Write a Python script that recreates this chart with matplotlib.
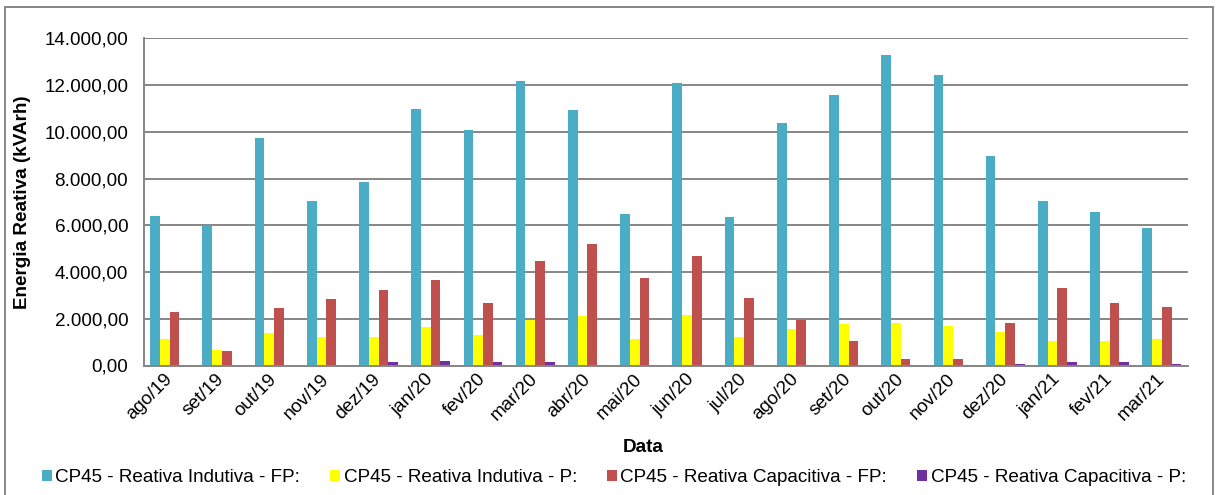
import matplotlib
matplotlib.use("Agg")
import matplotlib.pyplot as plt
from matplotlib.patches import Patch, Rectangle
from matplotlib.ticker import FuncFormatter, MultipleLocator
import numpy as np

plt.rcParams['font.family'] = ['Liberation Sans', 'DejaVu Sans']

months = ["ago/19", "set/19", "out/19", "nov/19", "dez/19", "jan/20", "fev/20",
          "mar/20", "abr/20", "mai/20", "jun/20", "jul/20", "ago/20", "set/20",
          "out/20", "nov/20", "dez/20", "jan/21", "fev/21", "mar/21"]

indutiva_fp = [6410, 5980, 9720, 7050, 7870, 10990, 10090, 12170, 10950, 6500,
               12090, 6360, 10390, 11580, 13300, 12420, 8980, 7050, 6570, 5870]
indutiva_p = [1150, 650, 1400, 1220, 1220, 1640, 1310, 1950, 2100, 1140,
              2160, 1230, 1580, 1790, 1810, 1670, 1420, 1040, 1030, 1130]
capacitiva_fp = [2280, 610, 2440, 2860, 3220, 3640, 2690, 4450, 5210, 3730,
                 4670, 2890, 1940, 1040, 270, 260, 1820, 3330, 2680, 2510]
capacitiva_p = [0, 0, 0, 0, 170, 185, 130, 130, 0, 0,
                0, 0, 0, 0, 0, 0, 70, 170, 130, 50]

series_labels = ["CP45 - Reativa Indutiva - FP:", "CP45 - Reativa Indutiva - P:",
                 "CP45 - Reativa Capacitiva - FP:", "CP45 - Reativa Capacitiva - P:"]
colors = ["#4BACC6", "#FFFF00", "#C0504D", "#7030A0"]

W, H = 1216, 495
fig = plt.figure(figsize=(W / 100, H / 100), dpi=100)
ax = fig.add_axes([143.5 / W, 1 - 365.5 / H, (1188 - 143.5) / W, (365.5 - 38.3) / H])

grid_color = "#868686"
fs = 13.6

x = np.arange(len(months))
bw = 0.186
all_series = [indutiva_fp, indutiva_p, capacitiva_fp, capacitiva_p]
for i, (vals, col) in enumerate(zip(all_series, colors)):
    ax.bar(x + (i - 1.5) * bw, vals, width=bw, color=col, zorder=3,
           edgecolor="none")

ax.set_xlim(-0.5, len(months) - 0.5)
ax.set_ylim(0, 14000)
ax.yaxis.set_major_locator(MultipleLocator(2000))


def br_fmt(v, pos):
    s = f"{v:,.2f}"
    return s.replace(",", "X").replace(".", ",").replace("X", ".")


ax.yaxis.set_major_formatter(FuncFormatter(br_fmt))
ax.grid(axis="y", color=grid_color, linewidth=1.4, zorder=0)
ax.set_axisbelow(True)

for side in ["top", "right"]:
    ax.spines[side].set_visible(False)
for side in ["left", "bottom"]:
    ax.spines[side].set_color(grid_color)
    ax.spines[side].set_linewidth(1.4)
    ax.spines[side].set_zorder(4)

ax.tick_params(axis="y", length=0, pad=11, labelsize=fs, colors="black")
ax.tick_params(axis="x", length=0, pad=8, labelsize=fs, colors="black")
ax.set_xticks(x)
ax.set_xticklabels(months, rotation=45, ha="right", va="center",
                   rotation_mode="anchor")

fig.text(23 / W, 1 - 202 / H, "Energia Reativa (kVArh)", rotation=90,
         ha="center", va="center", fontsize=fs, fontweight="bold")
fig.text(643 / W, 1 - 448 / H, "Data", ha="center", va="center",
         fontsize=fs, fontweight="bold")

handles = [Patch(facecolor=c, edgecolor="none") for c in colors]
fig.legend(handles, series_labels, loc="center", ncol=4,
           bbox_to_anchor=(614 / W, 1 - 478 / H), frameon=False, fontsize=fs,
           handlelength=0.5, handleheight=0.5, handletextpad=0.2,
           columnspacing=1.6)

# chart frame
fig.patches.append(Rectangle((5 / W, -0.01), (1213 - 5) / W, 1 - 7 / H + 0.01,
                             transform=fig.transFigure, fill=False,
                             edgecolor=grid_color, linewidth=1.4))

fig.savefig("out.png", dpi=100)
